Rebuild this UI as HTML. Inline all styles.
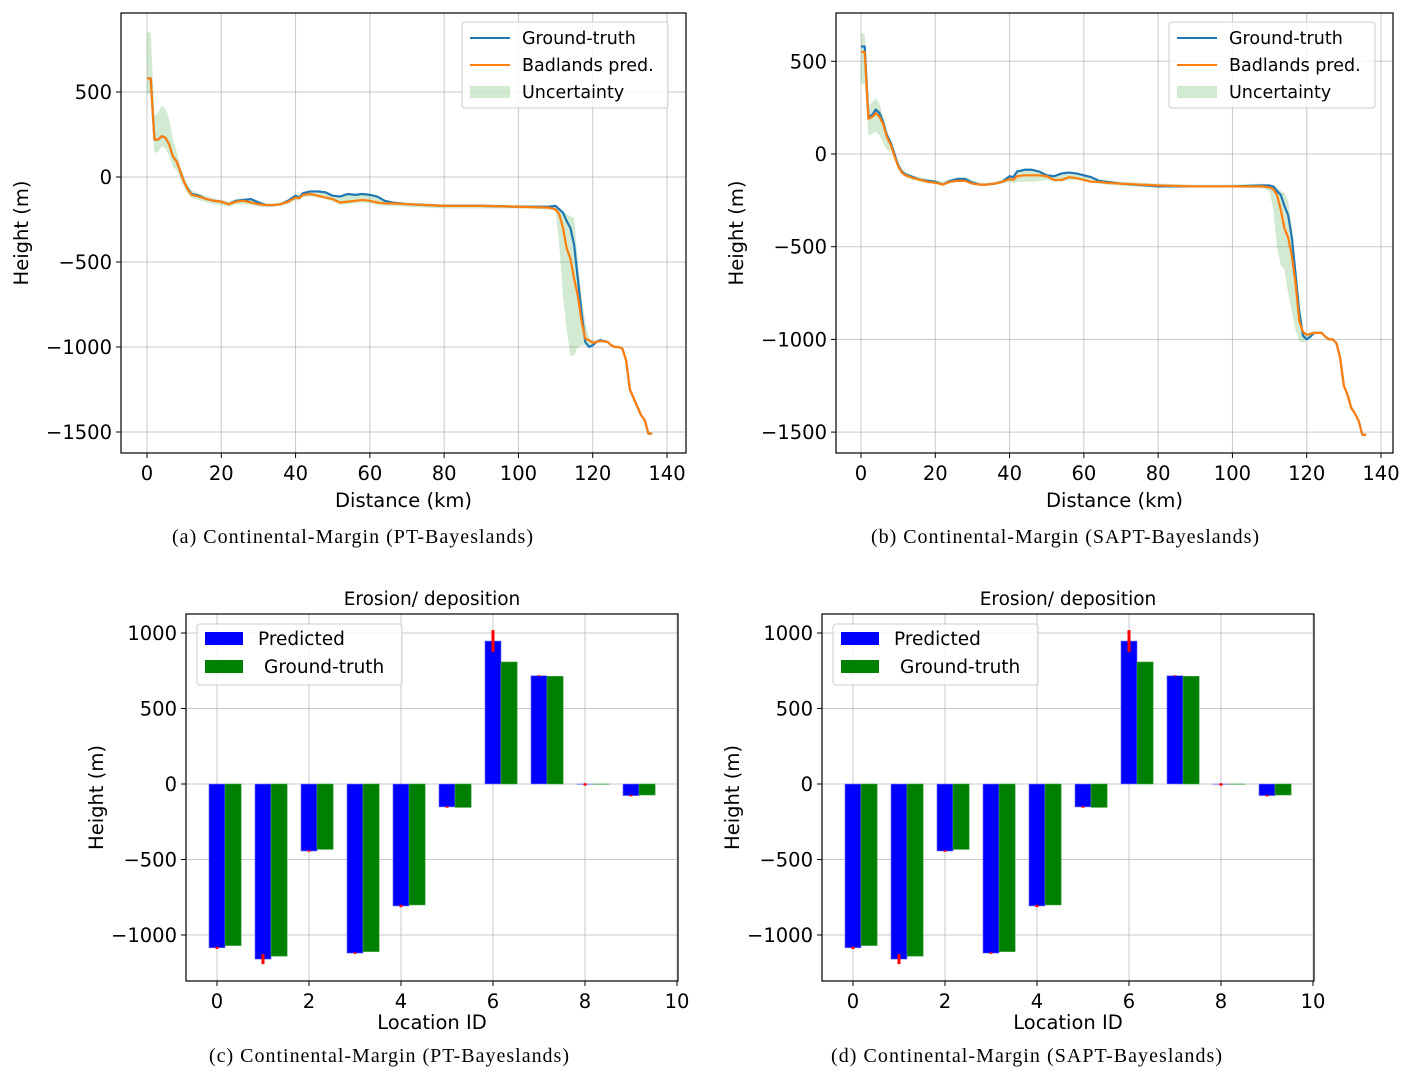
<!DOCTYPE html>
<html><head><meta charset="utf-8"><style>
body{margin:0;background:#fff;}
svg{display:block;}
text{font-family:"DejaVu Sans","Liberation Sans",sans-serif;fill:#000;}
.cap{font-family:"Liberation Serif",serif;font-size:20px;}
</style></head><body>
<svg id="fig" width="1414" height="1081" viewBox="0 0 1414 1081" xmlns="http://www.w3.org/2000/svg"></svg>
<script>
const distKm=[0,1,2,3,4,5,6,7,8,9,10,11,12,14,16,18,20,22,24,26,28,30,32,34,36,38,40,41,42,44,46,48,50,52,54,56,58,60,62,64,66,70,80,90,100,108,110,111,112,113,114,115,116,117,118,119,120,121,122,124,125,126,127,128,129,130,131,132,133,134,135,136];
const tail=[-970,-990,-1000,-1000,-1010,-1080,-1250,-1300,-1350,-1400,-1430,-1510,-1510];
const gtA=[580,580,220,220,240,230,190,120,90,30,-30,-70,-100,-110,-130,-140,-145,-160,-140,-135,-130,-150,-165,-165,-160,-140,-110,-120,-95,-85,-85,-90,-110,-115,-100,-105,-100,-105,-115,-140,-150,-160,-170,-170,-175,-175,-170,-190,-210,-260,-300,-400,-600,-800,-970,-1000,-990,-970,-960,...tail];
const predA=[580,580,220,220,240,230,190,120,90,30,-30,-75,-105,-115,-130,-140,-145,-160,-145,-140,-150,-160,-165,-165,-160,-145,-120,-125,-105,-100,-110,-120,-130,-150,-145,-140,-135,-140,-150,-155,-155,-160,-170,-170,-175,-180,-190,-220,-300,-420,-480,-600,-700,-850,-950,-960,-975,-970,-965,...tail];
const loA=[490,490,140,150,180,170,120,60,40,-10,-60,-100,-125,-135,-150,-160,-165,-175,-160,-160,-165,-175,-175,-175,-170,-160,-135,-140,-120,-115,-120,-130,-145,-165,-160,-155,-150,-155,-165,-170,-170,-175,-185,-185,-185,-190,-200,-400,-700,-900,-1050,-1050,-1000,-990,-990,-990,-990,-975,-970,...tail];
const hiA=[850,850,360,380,420,400,340,220,150,60,0,-50,-80,-95,-115,-125,-135,-145,-130,-125,-125,-140,-155,-155,-150,-130,-100,-110,-85,-80,-85,-90,-105,-115,-105,-105,-105,-110,-120,-140,-145,-150,-160,-160,-165,-170,-175,-180,-200,-220,-230,-240,-500,-700,-850,-950,-960,-960,-955,...tail];
const tailB=[-965,-985,-1000,-1000,-1020,-1100,-1250,-1300,-1370,-1400,-1440,-1515,-1515];
const gtB=[580,580,200,210,240,220,170,100,60,0,-60,-95,-110,-125,-140,-145,-150,-165,-145,-135,-135,-155,-165,-165,-160,-150,-120,-125,-95,-85,-85,-95,-115,-120,-105,-100,-105,-115,-125,-145,-150,-160,-175,-175,-175,-170,-170,-175,-200,-220,-280,-330,-450,-650,-850,-980,-1000,-985,-965,...tailB];
const predB=[550,550,190,200,220,200,160,90,50,-10,-65,-100,-115,-130,-140,-150,-155,-165,-150,-145,-145,-160,-165,-165,-160,-150,-135,-140,-120,-115,-115,-115,-120,-140,-140,-125,-130,-140,-150,-150,-155,-160,-170,-175,-175,-175,-180,-190,-220,-300,-400,-450,-550,-700,-900,-960,-975,-970,-965,...tailB];
const loB=[380,380,100,110,120,100,60,20,20,-30,-80,-110,-125,-140,-150,-160,-160,-170,-155,-150,-150,-165,-170,-170,-165,-160,-150,-160,-150,-150,-150,-145,-140,-150,-150,-140,-140,-145,-155,-160,-165,-170,-180,-180,-180,-185,-200,-300,-500,-600,-620,-750,-850,-950,-1010,-1020,-1000,-985,-970,...tailB];
const hiB=[650,650,260,280,300,270,200,120,80,20,-40,-80,-100,-115,-125,-135,-140,-150,-135,-125,-125,-140,-155,-155,-150,-140,-115,-120,-95,-90,-90,-95,-110,-115,-100,-95,-100,-110,-120,-135,-140,-150,-160,-165,-165,-160,-165,-170,-180,-200,-210,-250,-400,-600,-800,-950,-970,-960,-955,...tailB];
const lineXTicks=[0,20,40,60,80,100,120,140];
const lineYTicks=[500,0,-500,-1000,-1500];
const locIds=[0,1,2,3,4,5,6,7,8,9];
const predVals=[-1085,-1160,-444,-1120,-808,-152,947,717,-3,-77];
const predErr=[8,33,5,5,8,5,72,3,8,5];
const gtVals=[-1070,-1140,-433,-1110,-801,-155,808,713,-2,-73];
const barXTicks=[0,2,4,6,8,10];
const barYTicks=[1000,500,0,-500,-1000];

const NS='http://www.w3.org/2000/svg';
const svg=document.getElementById('fig');
const TF=19.5;
function mk(tag,attrs,parent,txt){const e=document.createElementNS(NS,tag);for(const k in attrs)e.setAttribute(k,attrs[k]);if(txt!==undefined)e.textContent=txt;(parent||svg).appendChild(e);return e;}
function fmt(v){return v<0?'\u2212'+Math.abs(v):String(v);}

function axesFrame(g,c,xt,yt,sx,sy){
  xt.forEach(v=>{const x=sx(v);const l=mk('line',{x1:x,x2:x,y1:c.t,y2:c.b,stroke:'#b0b0b0','stroke-opacity':0.7,'stroke-width':1},g);});
  yt.forEach(v=>{const y=sy(v);const l=mk('line',{x1:c.l,x2:c.r,y1:y,y2:y,stroke:'#b0b0b0','stroke-opacity':0.7,'stroke-width':1},g);});
}
function axesTicks(g,c,xt,yt,sx,sy){
  const f=mk('rect',{x:c.l,y:c.t,width:c.r-c.l,height:c.b-c.t,fill:'none',stroke:'#000','stroke-width':1.2},g);
  
  xt.forEach(v=>{const x=sx(v);mk('line',{x1:x,x2:x,y1:c.b,y2:c.b+5,stroke:'#000'},g);
    const t=mk('text',{x:x,y:c.b+27,'text-anchor':'middle','font-size':TF},g,String(v));
    });
  yt.forEach(v=>{const y=sy(v);mk('line',{x1:c.l-5,x2:c.l,y1:y,y2:y,stroke:'#000'},g);
    const t=mk('text',{x:c.l-9,y:y+7,'text-anchor':'end','font-size':TF},g,fmt(v));
    });
}
function linePanel(c,gt,pr,lo,hi,name){
  const g=mk('g',{});
  const sx=v=>c.x0+v*c.kx, sy=v=>c.y0-v*c.ky;
  axesFrame(g,c,lineXTicks,lineYTicks,sx,sy);
  let d='M'+distKm.map((x,i)=>sx(x)+','+sy(hi[i])).join(' L');
  for(let i=distKm.length-1;i>=0;i--)d+=' L'+sx(distKm[i])+','+sy(lo[i]);
  const band=mk('path',{d:d+'Z',fill:'#2ca02c','fill-opacity':0.22,stroke:'none'},g);
  
  const l1=mk('polyline',{points:distKm.map((x,i)=>sx(x)+','+sy(gt[i])).join(' '),fill:'none',stroke:'#1f77b4','stroke-width':2.2,'stroke-linejoin':'round'},g);
  
  const l2=mk('polyline',{points:distKm.map((x,i)=>sx(x)+','+sy(pr[i])).join(' '),fill:'none',stroke:'#ff7f0e','stroke-width':2.2,'stroke-linejoin':'round'},g);
  
  axesTicks(g,c,lineXTicks,lineYTicks,sx,sy);
  const lg=mk('g',{},g);
  const L=c.r-224;
  mk('rect',{x:L,y:c.t+9,width:206,height:86,rx:3,fill:'#fff','fill-opacity':0.8,stroke:'#ccc'},lg);
  mk('line',{x1:L+8,x2:L+48,y1:c.t+25,y2:c.t+25,stroke:'#1f77b4','stroke-width':2},lg);
  mk('line',{x1:L+8,x2:L+48,y1:c.t+52,y2:c.t+52,stroke:'#ff7f0e','stroke-width':2},lg);
  mk('rect',{x:L+8,y:c.t+73,width:40,height:12,fill:'#2ca02c','fill-opacity':0.22},lg);
  const e1=mk('text',{x:L+60,y:c.t+31,'font-size':17.5},lg,'Ground-truth');
  const e2=mk('text',{x:L+60,y:c.t+58,'font-size':17.5},lg,'Badlands pred.');
  const e3=mk('text',{x:L+60,y:c.t+85,'font-size':17.5},lg,'Uncertainty');
  const xl=mk('text',{x:(c.l+c.r)/2,y:c.b+54,'text-anchor':'middle','font-size':TF},g,'Distance (km)');
  const yx=c.l-93;const yl=mk('text',{x:yx,y:(c.t+c.b)/2,'text-anchor':'middle','font-size':TF,transform:`rotate(-90 ${yx} ${(c.t+c.b)/2})`},g,'Height (m)');
}
function barPanel(c,name){
  const g=mk('g',{});
  const sx=v=>c.x0+v*c.kx, sy=v=>c.y0-v*c.ky;
  axesFrame(g,c,barXTicks,barYTicks,sx,sy);
  const w=0.35;
  locIds.forEach((id,i)=>{
    const x1=sx(id-w/2),x2=sx(id+w/2);
    const yp=sy(predVals[i]),y0=sy(0);
    const b=mk('rect',{x:x1,y:Math.min(yp,y0),width:x2-x1,height:Math.abs(yp-y0),fill:'#0000ff',stroke:'#8080ff','stroke-width':0.6},g);
    
    const yg=sy(gtVals[i]);const gx1=sx(id+w/2),gx2=sx(id+1.5*w);
    const b2=mk('rect',{x:gx1,y:Math.min(yg,y0),width:gx2-gx1,height:Math.abs(yg-y0),fill:'#008000',stroke:'#40a040','stroke-width':0.6},g);
    
    const e=mk('line',{x1:sx(id),x2:sx(id),y1:sy(predVals[i]+predErr[i]),y2:sy(predVals[i]-predErr[i]),stroke:'#ff0000','stroke-width':3},g);
    
  });
  axesTicks(g,c,barXTicks,barYTicks,sx,sy);
  const lg=mk('g',{},g);
  const L=c.l+11;
  mk('rect',{x:L,y:c.t+10,width:205,height:61,rx:3,fill:'#fff','fill-opacity':0.8,stroke:'#ccc'},lg);
  mk('rect',{x:L+8,y:c.t+18,width:38,height:13,fill:'#0000ff'},lg);
  mk('rect',{x:L+8,y:c.t+46,width:38,height:13,fill:'#008000'},lg);
  const e1=mk('text',{x:L+61,y:c.t+31,'font-size':18.5},lg,'Predicted');
  const e2=mk('text',{x:L+67,y:c.t+59,'font-size':18.5},lg,'Ground-truth');
  const tt=mk('text',{x:(c.l+c.r)/2,y:c.t-9,'text-anchor':'middle','font-size':18.5},g,'Erosion/ deposition');
  const xl=mk('text',{x:(c.l+c.r)/2,y:c.b+48,'text-anchor':'middle','font-size':TF},g,'Location ID');
  const yx=c.l-83;const yl=mk('text',{x:yx,y:(c.t+c.b)/2,'text-anchor':'middle','font-size':TF,transform:`rotate(-90 ${yx} ${(c.t+c.b)/2})`},g,'Height (m)');
}
linePanel({l:121,r:686,t:13,b:453,x0:147,kx:520/140,y0:177,ky:85/500},gtA,predA,loA,hiA,'panel-a-chart');
linePanel({l:836,r:1393,t:13,b:453,x0:861,kx:520/140,y0:154,ky:92.7/500},gtB,predB,loB,hiB,'panel-b-chart');
barPanel({l:186,r:678,t:614,b:981,x0:217,kx:46,y0:784,ky:151/1000},'panel-c-chart');
barPanel({l:822,r:1314,t:614,b:981,x0:853,kx:46,y0:784,ky:151/1000},'panel-d-chart');
const caps=[[172,543,361,'(a)  Continental-Margin (PT-Bayeslands)'],[871,543,388,'(b)  Continental-Margin (SAPT-Bayeslands)'],[209,1062,360,'(c)  Continental-Margin (PT-Bayeslands)'],[831,1062,391,'(d)  Continental-Margin (SAPT-Bayeslands)']];
caps.forEach(c=>{const t=mk('text',{x:c[0],y:c[1],textLength:c[2],lengthAdjust:'spacing',class:'cap','xml:space':'preserve'},svg,c[3]);

});
</script>
</body></html>
